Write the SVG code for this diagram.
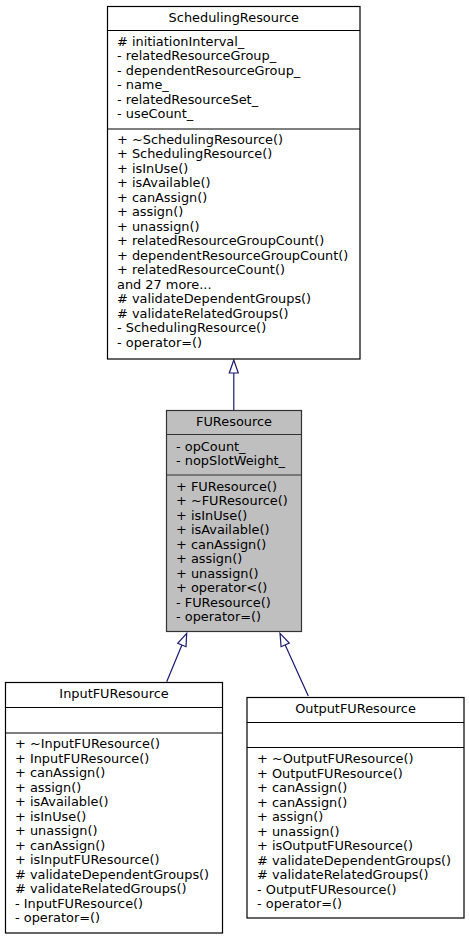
<svg xmlns="http://www.w3.org/2000/svg" width="469" height="940" viewBox="0 0 469 940">
<style>
  text { font-family: "DejaVu Sans", "Noto Sans", sans-serif; font-size: 12.9px; fill: #000; }
  .t { text-anchor: middle; }
  .box { fill: #fff; stroke: #000; stroke-width: 1.2; }
  .cur { fill: #bfbfbf; stroke: #333; stroke-width: 1.2; }
  .sep { stroke: #000; stroke-width: 1.2; fill: none; }
  .sepc { stroke: #333; stroke-width: 1.2; fill: none; }
  .edge { stroke: #191970; stroke-width: 1.2; fill: none; }
  .head { stroke: #191970; stroke-width: 1.2; fill: #fff; }
</style>
<rect width="469" height="940" fill="#fff"/>
<g id="connectors">
  <path class="edge" d="M233.8,373 L233.8,410"/>
  <polygon class="head" points="233.8,360 229.3,373 238.3,373"/>
  <path class="edge" d="M166.7,681.7 L181.9,645"/>
  <polygon class="head" points="186.7,633.3 186,646.7 177.7,643.3"/>
  <path class="edge" d="M308.3,696 L285.2,644.9"/>
  <polygon class="head" points="280,633.3 289.3,643 281.1,646.7"/>
</g>
<g id="SchedulingResource">
  <rect class="box" x="107.5" y="6.5" width="252.5" height="352.5"/>
  <line class="sep" x1="107.5" y1="30.5" x2="360" y2="30.5"/>
  <line class="sep" x1="107.5" y1="129" x2="360" y2="129"/>
  <text class="t" x="233.8" y="22">SchedulingResource</text>
  <text x="117">
    <tspan x="117" y="45.7"># initiationInterval_</tspan>
    <tspan x="117" y="60.2">- relatedResourceGroup_</tspan>
    <tspan x="117" y="74.7">- dependentResourceGroup_</tspan>
    <tspan x="117" y="89.2">- name_</tspan>
    <tspan x="117" y="103.7">- relatedResourceSet_</tspan>
    <tspan x="117" y="118.2">- useCount_</tspan>
  </text>
  <text x="117">
    <tspan x="117" y="143.5">+ ~SchedulingResource()</tspan>
    <tspan x="117" y="158">+ SchedulingResource()</tspan>
    <tspan x="117" y="172.5">+ isInUse()</tspan>
    <tspan x="117" y="187">+ isAvailable()</tspan>
    <tspan x="117" y="201.5">+ canAssign()</tspan>
    <tspan x="117" y="216">+ assign()</tspan>
    <tspan x="117" y="230.5">+ unassign()</tspan>
    <tspan x="117" y="245">+ relatedResourceGroupCount()</tspan>
    <tspan x="117" y="259.5">+ dependentResourceGroupCount()</tspan>
    <tspan x="117" y="274">+ relatedResourceCount()</tspan>
    <tspan x="117" y="288.5">and 27 more...</tspan>
    <tspan x="117" y="303"># validateDependentGroups()</tspan>
    <tspan x="117" y="317.5"># validateRelatedGroups()</tspan>
    <tspan x="117" y="332">- SchedulingResource()</tspan>
    <tspan x="117" y="346.5">- operator=()</tspan>
  </text>
</g>
<g id="FUResource">
  <rect class="cur" x="166.5" y="410.5" width="135" height="221"/>
  <line class="sepc" x1="166.5" y1="434.5" x2="301.5" y2="434.5"/>
  <line class="sepc" x1="166.5" y1="475" x2="301.5" y2="475"/>
  <text class="t" x="234" y="426">FUResource</text>
  <text x="176">
    <tspan x="176" y="450.5">- opCount_</tspan>
    <tspan x="176" y="465">- nopSlotWeight_</tspan>
  </text>
  <text x="176">
    <tspan x="176" y="490.5">+ FUResource()</tspan>
    <tspan x="176" y="505">+ ~FUResource()</tspan>
    <tspan x="176" y="519.5">+ isInUse()</tspan>
    <tspan x="176" y="534">+ isAvailable()</tspan>
    <tspan x="176" y="548.5">+ canAssign()</tspan>
    <tspan x="176" y="563">+ assign()</tspan>
    <tspan x="176" y="577.5">+ unassign()</tspan>
    <tspan x="176" y="592">+ operator&lt;()</tspan>
    <tspan x="176" y="606.5">- FUResource()</tspan>
    <tspan x="176" y="621">- operator=()</tspan>
  </text>
</g>
<g id="InputFUResource">
  <rect class="box" x="5.5" y="682.5" width="217" height="250.5"/>
  <line class="sep" x1="5.5" y1="707.5" x2="222.5" y2="707.5"/>
  <line class="sep" x1="5.5" y1="733" x2="222.5" y2="733"/>
  <text class="t" x="114" y="698">InputFUResource</text>
  <text x="15">
    <tspan x="15" y="748.3">+ ~InputFUResource()</tspan>
    <tspan x="15" y="762.8">+ InputFUResource()</tspan>
    <tspan x="15" y="777.3">+ canAssign()</tspan>
    <tspan x="15" y="791.8">+ assign()</tspan>
    <tspan x="15" y="806.3">+ isAvailable()</tspan>
    <tspan x="15" y="820.8">+ isInUse()</tspan>
    <tspan x="15" y="835.3">+ unassign()</tspan>
    <tspan x="15" y="849.8">+ canAssign()</tspan>
    <tspan x="15" y="864.3">+ isInputFUResource()</tspan>
    <tspan x="15" y="878.8"># validateDependentGroups()</tspan>
    <tspan x="15" y="893.3"># validateRelatedGroups()</tspan>
    <tspan x="15" y="907.8">- InputFUResource()</tspan>
    <tspan x="15" y="922.3">- operator=()</tspan>
  </text>
</g>
<g id="OutputFUResource">
  <rect class="box" x="247" y="697.5" width="217" height="220.5"/>
  <line class="sep" x1="247" y1="722.5" x2="464" y2="722.5"/>
  <line class="sep" x1="247" y1="747.5" x2="464" y2="747.5"/>
  <text class="t" x="355.5" y="713">OutputFUResource</text>
  <text x="257">
    <tspan x="257" y="763">+ ~OutputFUResource()</tspan>
    <tspan x="257" y="777.5">+ OutputFUResource()</tspan>
    <tspan x="257" y="792">+ canAssign()</tspan>
    <tspan x="257" y="806.5">+ canAssign()</tspan>
    <tspan x="257" y="821">+ assign()</tspan>
    <tspan x="257" y="835.5">+ unassign()</tspan>
    <tspan x="257" y="850">+ isOutputFUResource()</tspan>
    <tspan x="257" y="864.5"># validateDependentGroups()</tspan>
    <tspan x="257" y="879"># validateRelatedGroups()</tspan>
    <tspan x="257" y="893.5">- OutputFUResource()</tspan>
    <tspan x="257" y="908">- operator=()</tspan>
  </text>
</g>
</svg>
